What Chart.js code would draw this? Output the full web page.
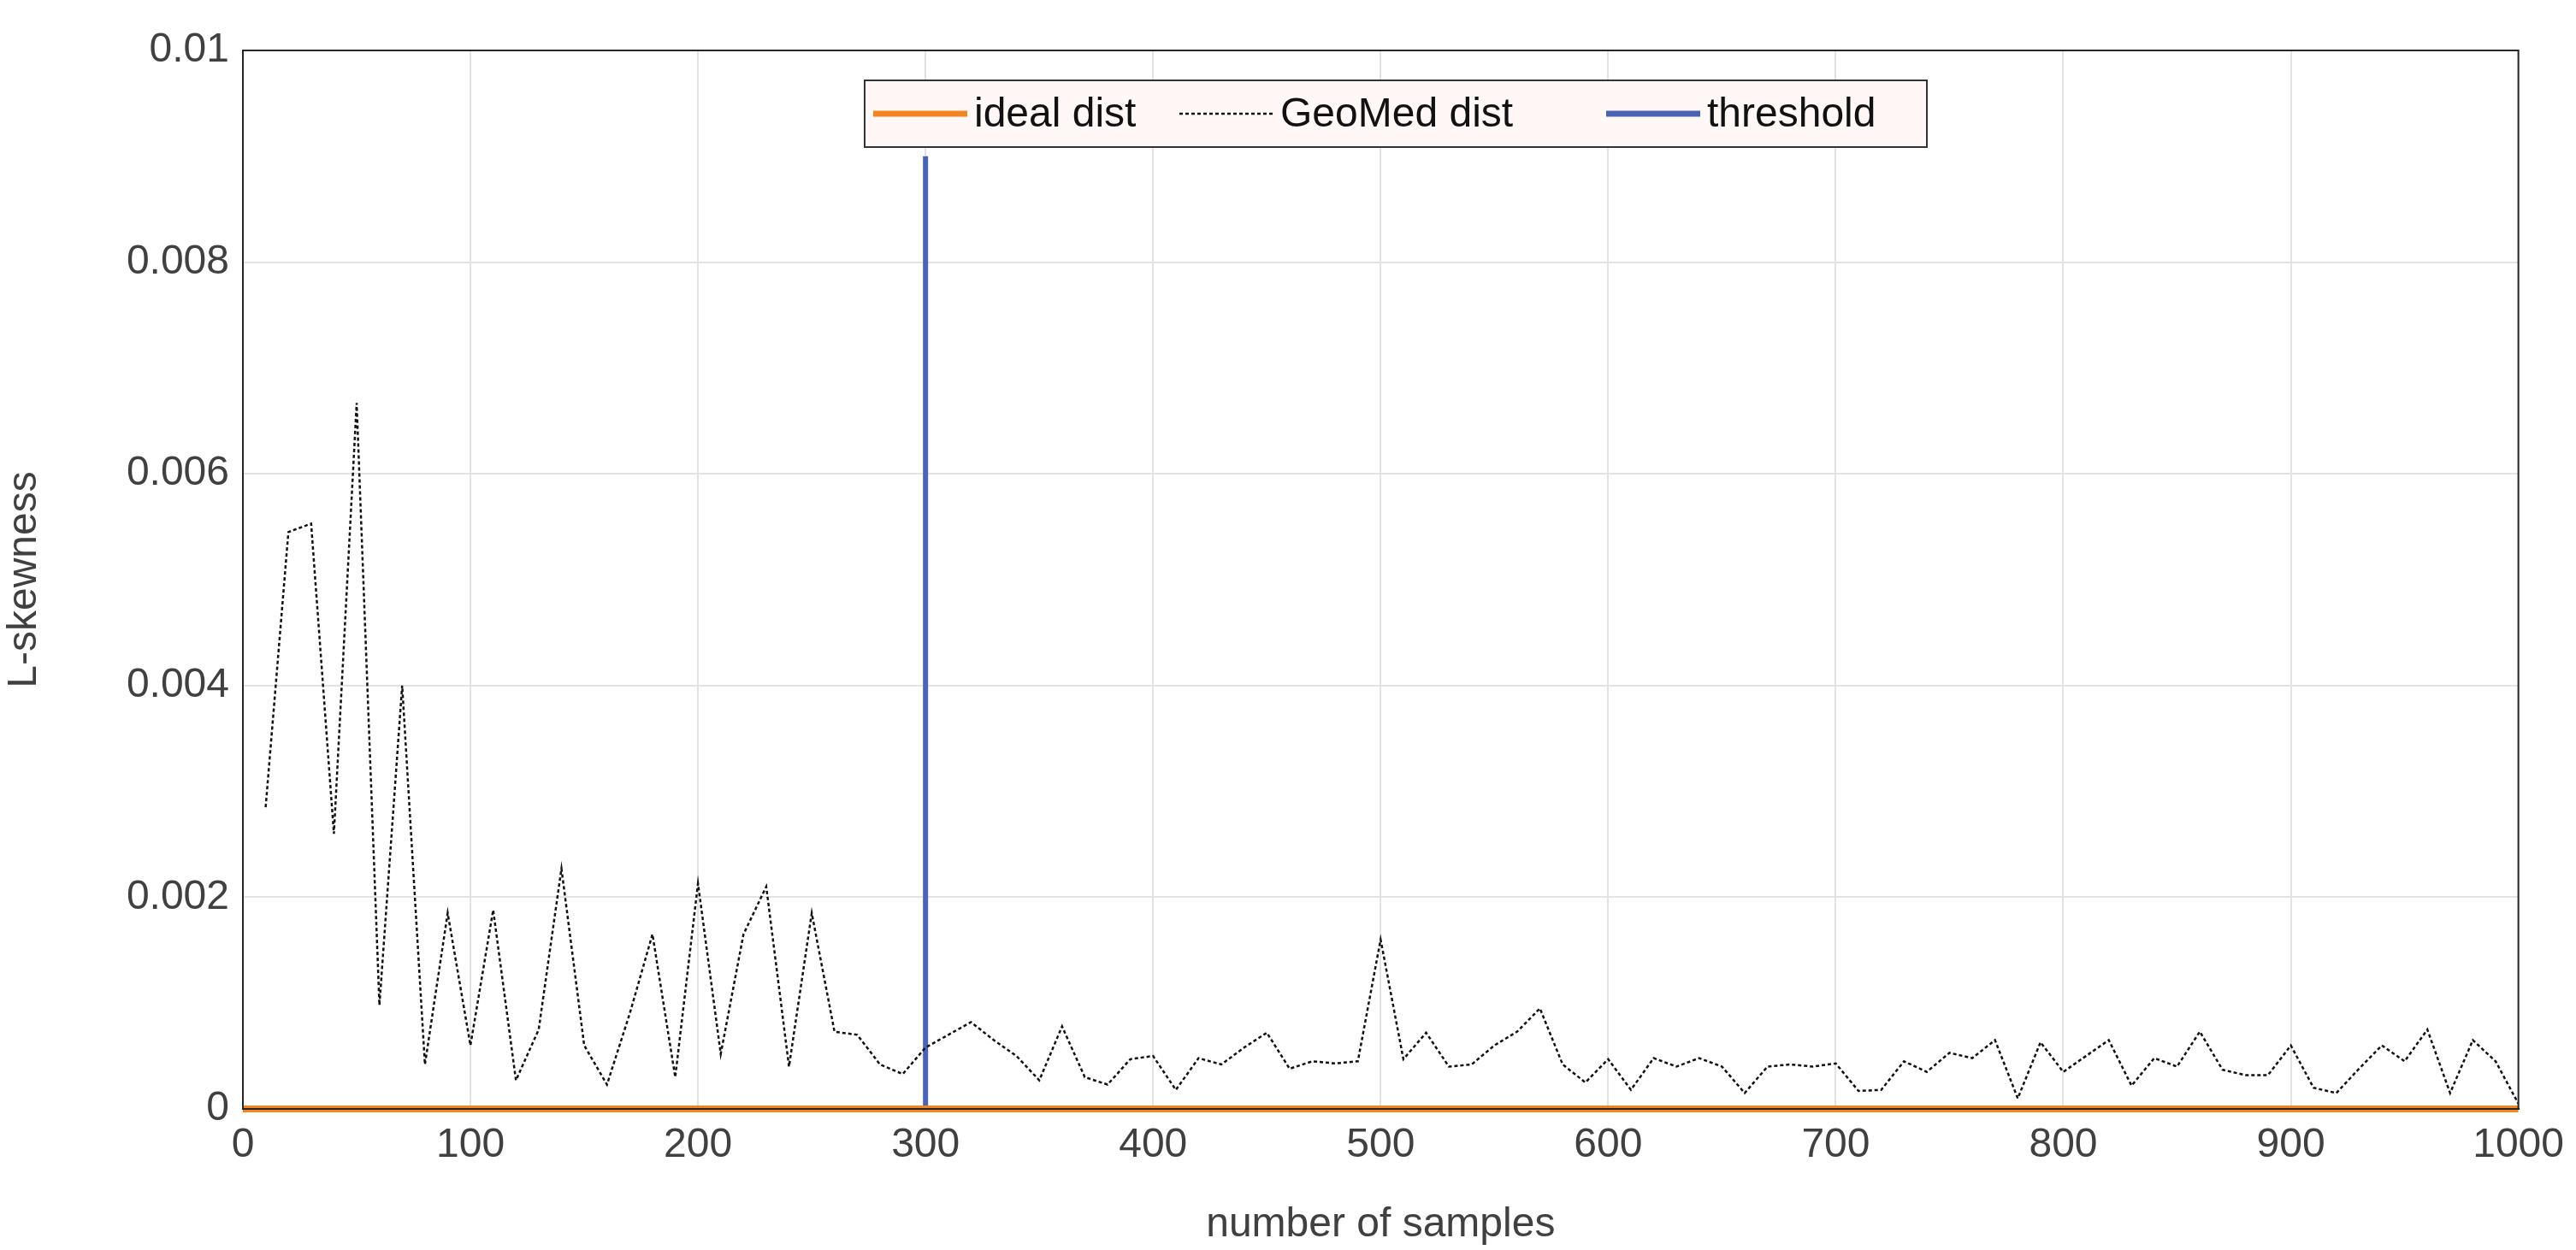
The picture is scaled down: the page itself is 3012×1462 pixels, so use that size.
<!DOCTYPE html>
<html>
<head>
<meta charset="UTF-8">
<title>L-skewness</title>
<script src="https://cdn.jsdelivr.net/npm/chart.js"></script>
<style>body{margin:0;background:#fff}</style>
</head>
<body>
<canvas id="c" width="3012" height="1462"></canvas>
<script>
// samples 10..1000
const samples = [10,20,30,40,50,60,70,80,90,100,110,120,130,140,150,160,170,180,190,200,
 210,220,230,240,250,260,270,280,290,300,310,320,330,340,350,360,370,380,390,400,
 410,420,430,440,450,460,470,480,490,500,510,520,530,540,550,560,570,580,590,600,
 610,620,630,640,650,660,670,680,690,700,710,720,730,740,750,760,770,780,790,800,
 810,820,830,840,850,860,870,880,890,900,910,920,930,940,950,960,970,980,990,1000];
const geomed = [0.00285,0.00545,0.00553,0.0026,0.00667,0.00098,0.004,0.00042,0.00185,0.0006,
 0.00188,0.00027,0.00075,0.00227,0.0006,0.00023,0.0009,0.00165,0.0003,0.00213,
 0.00052,0.00165,0.0021,0.0004,0.00185,0.00073,0.0007,0.00042,0.00033,0.00058,
 0.0007,0.00082,0.00065,0.0005,0.00027,0.00078,0.0003,0.00023,0.00047,0.0005,
 0.00018,0.00048,0.00042,0.00058,0.00072,0.00038,0.00045,0.00043,0.00045,0.0016,
 0.00047,0.00072,0.0004,0.00042,0.0006,0.00073,0.00095,0.00042,0.00025,0.00047,
 0.00018,0.00048,0.0004,0.00048,0.0004,0.00015,0.0004,0.00042,0.0004,0.00043,
 0.00017,0.00018,0.00045,0.00035,0.00053,0.00048,0.00065,0.0001,0.00063,0.00035,
 0.0005,0.00065,0.00022,0.00048,0.0004,0.00073,0.00037,0.00032,0.00032,0.0006,
 0.0002,0.00015,0.00038,0.0006,0.00045,0.00075,0.00015,0.00065,0.00045,0.00005];
const idealX = [0, 1000];
const idealY = [0, 0];
const thresholdX = [300, 300];
const thresholdY = [0, 0.009];
const legendLabels = ['ideal dist', 'GeoMed dist', 'threshold'];

const ORANGE = '#F28522', BLUE = '#4A63B5', BLACK = '#111';
const FONT = '"Liberation Sans", Arial, sans-serif';

// legend box + top/right frame
const extras = {
  id: 'extras',
  afterDraw(chart) {
    const ctx = chart.ctx, a = chart.chartArea;
    ctx.save();
    ctx.strokeStyle = '#262626'; ctx.lineWidth = 2;
    ctx.strokeRect(a.left, a.top, a.right - a.left, a.bottom - a.top);
    // legend
    const x0 = 1011, y0 = 94, w = 1242, h = 78;
    ctx.fillStyle = '#fff8f6'; ctx.fillRect(x0, y0, w, h);
    ctx.strokeStyle = '#333'; ctx.lineWidth = 2; ctx.strokeRect(x0, y0, w, h);
    ctx.font = '48px ' + FONT; ctx.fillStyle = '#111'; ctx.textBaseline = 'middle';
    const cy = y0 + h / 2;
    const items = [
      {c: ORANGE, w: 7, d: [], x: 10},
      {c: BLACK, w: 2.5, d: [4, 3], x: 368},
      {c: BLUE, w: 7, d: [], x: 867}
    ];
    items.forEach((it, i) => {
      ctx.strokeStyle = it.c; ctx.lineWidth = it.w; ctx.setLineDash(it.d);
      ctx.beginPath(); ctx.moveTo(x0 + it.x, cy); ctx.lineTo(x0 + it.x + 110, cy); ctx.stroke();
      ctx.setLineDash([]);
      ctx.fillText(legendLabels[i], x0 + it.x + 118, cy + 2);
    });
    ctx.restore();
  }
};

new Chart(document.getElementById('c'), {
  type: 'line',
  data: {
    datasets: [
      {data: samples.map((s, i) => ({x: s, y: geomed[i]})), borderColor: BLACK, borderWidth: 2.5, borderDash: [4, 3], pointRadius: 0, tension: 0},
      {data: idealX.map((s, i) => ({x: s, y: idealY[i]})), borderColor: ORANGE, borderWidth: 8, pointRadius: 0, clip: false},
      {data: thresholdX.map((s, i) => ({x: s, y: thresholdY[i]})), borderColor: BLUE, borderWidth: 6, pointRadius: 0}
    ]
  },
  options: {
    responsive: false,
    animation: false,
    layout: {padding: {top: 59, right: 31, left: 0, bottom: 0}},
    plugins: {legend: {display: false}, tooltip: {enabled: false}},
    scales: {
      x: {
        type: 'linear', min: 0, max: 1000,
        ticks: {stepSize: 100, color: '#404040', font: {size: 48, family: FONT}, padding: 14,
          callback: v => String(v)},
        grid: {color: '#e3e3e3', lineWidth: 2, tickLength: 0},
        border: {color: '#262626', width: 2},
        title: {display: true, text: 'number of samples', color: '#404040', font: {size: 48, family: FONT}, padding: 0},
        afterFit: s => { s.height = 165; }
      },
      y: {
        min: 0, max: 0.01,
        ticks: {stepSize: 0.002, color: '#404040', font: {size: 48, family: FONT}, padding: 16,
          callback: v => v === 0 ? '0' : (Math.abs(v - 0.01) < 1e-9 ? '0.01' : v.toFixed(3))},
        grid: {color: '#e3e3e3', lineWidth: 2, tickLength: 0},
        border: {color: '#262626', width: 2},
        title: {display: true, text: 'L-skewness', color: '#404040', font: {size: 48, family: FONT}, padding: {top: 0, bottom: 20}},
        afterFit: s => { s.width = 284; }
      }
    }
  },
  plugins: [extras]
});
</script>
</body>
</html>
